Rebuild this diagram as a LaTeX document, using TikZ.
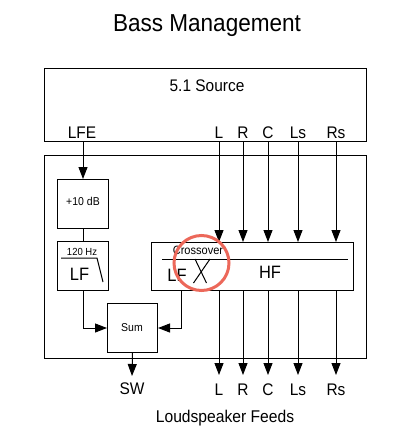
\documentclass[tikz,border=0pt]{standalone}
\usepackage{fontspec}
\setmainfont{Liberation Sans}[FakeStretch=0.92]
\usetikzlibrary{arrows.meta}
\definecolor{hilite}{RGB}{236,104,90}
\tikzset{
  ln/.style={line width=1pt, draw=black},
  arr/.style={ln, -{Triangle[length=12pt,width=9pt]}},
  box/.style={ln, inner sep=0pt, anchor=north west},
  txt/.style={inner sep=0pt, anchor=base},
  big/.style={txt, font=\fontsize{16.8}{19}\selectfont},
  mid/.style={txt, font=\fontsize{17.9}{20}\selectfont},
  sml/.style={txt, font=\fontsize{11.4}{13}\selectfont},
}
\begin{document}
\begin{tikzpicture}[x=1pt,y=-1pt]
\useasboundingbox (0,0) rectangle (414,444);
% title
\node[txt, font=\fontsize{24.5}{28}\selectfont] (title) at (207,31.5) {Bass Management};
% source
\node[box, minimum width=322pt, minimum height=73pt] (src) at (44,68) {};
\node[big] (srct) at (207,91.5) {5.1 Source};
\node[big] (iLFE) at (82,138) {LFE};
\node[big] (iL) at (219,138) {L};
\node[big] (iR) at (243,138) {R};
\node[big] (iC) at (268,138) {C};
\node[big] (iLs) at (298,138) {Ls};
\node[big] (iRs) at (336,138) {Rs};
% outer processing box
\node[box, minimum width=322pt, minimum height=203pt] (outer) at (44,155) {};
% +10 dB
\node[box, minimum width=51pt, minimum height=49pt] (db) at (57,179) {};
\node[sml] (dbt) at (83,205.5) {+10 dB};
% low-pass filter
\node[box, minimum width=51pt, minimum height=49pt] (lpf) at (57,241) {};
\node[txt, font=\fontsize{10.3}{12}\selectfont] (hz) at (82,255) {120 Hz};
\coordinate (lpa) at (61,258);
\coordinate (lpb) at (97,258);
\coordinate (lpc) at (103,282);
\draw[ln] (lpa) -- (lpb) -- (lpc);
\node[mid] (lpl) at (79.5,280) {LF};
% crossover
\node[box, minimum width=202pt, minimum height=48pt] (xo) at (151,242) {};
\coordinate (xa) at (162,259);
\coordinate (xb) at (348,259);
\draw[ln] (xa) -- (xb);
\node[txt, font=\fontsize{12}{14}\selectfont] (xot) at (198,254) {Crossover};
\node[mid] (xlf) at (177,281) {LF};
\node[mid] (xhf) at (270,278.5) {HF};
\coordinate (x1) at (195,259);
\coordinate (x2) at (206.5,283);
\coordinate (x3) at (210,259);
\coordinate (x4) at (193.5,283);
\draw[ln] (x1) -- (x2);
\draw[ln] (x3) -- (x4);
% sum
\node[box, minimum width=50pt, minimum height=49pt] (sum) at (107,303) {};
\node[sml] (sumt) at (132,331) {Sum};
% connections
\draw[arr] (db.north |- src.south) -- (db.north);
\draw[ln] (db.south) -- (lpf.north);
\draw[arr] (lpf.south) |- (sum.west);
\coordinate (xlo) at (181,290);
\draw[arr] (xlo) |- (sum.east);
\foreach \c in {L,R,C,Ls,Rs}{
  \draw[arr] (i\c |- src.south) -- (i\c |- xo.north);
}
% outputs
\node[big] (oSW) at (132,394.5) {SW};
\node[big] (oL) at (219,395.5) {L};
\node[big] (oR) at (243,395.5) {R};
\node[big] (oC) at (268,395.5) {C};
\node[big] (oLs) at (298,395.5) {Ls};
\node[big] (oRs) at (336,395.5) {Rs};
\coordinate (tSW) at (132,376);
\coordinate (tL) at (219,375);
\coordinate (tR) at (243,375);
\coordinate (tC) at (268,375);
\coordinate (tLs) at (298,375);
\coordinate (tRs) at (336,375);
\draw[arr] (sum.south) -- (tSW);
\foreach \c in {L,R,C,Ls,Rs}{
  \draw[arr] (t\c |- xo.south) -- (t\c);
}
\node[txt, font=\fontsize{17}{20}\selectfont] (feeds) at (225,422) {Loudspeaker Feeds};
% highlight
\node[draw=hilite, line width=3pt, circle, minimum size=55pt, inner sep=0pt] (hl) at (201.5,263) {};
\end{tikzpicture}
\end{document}
